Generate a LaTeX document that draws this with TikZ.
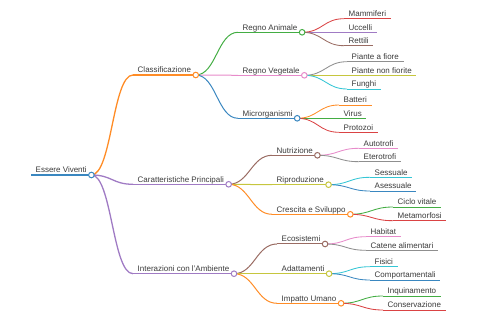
\documentclass[tikz,border=0pt]{standalone}
\usepackage{fontspec}
\setmainfont{Liberation Sans}
\usetikzlibrary{positioning}

\definecolor{cBlue}{HTML}{3A87C0}
\definecolor{cOrange}{HTML}{FF8C26}
\definecolor{cGreen}{HTML}{43AD43}
\definecolor{cRed}{HTML}{DA4344}
\definecolor{cPurple}{HTML}{A07BC4}
\definecolor{cBrown}{HTML}{9A6C63}
\definecolor{cPink}{HTML}{E78BCA}
\definecolor{cGray}{HTML}{8F8F8F}
\definecolor{cOlive}{HTML}{C6C63E}
\definecolor{cCyan}{HTML}{35C6D5}
\definecolor{txt}{HTML}{3A3A3A}

\tikzset{
  lbl/.style={anchor=south west,inner xsep=4.5pt,inner ysep=2pt,
    text height=6pt,text depth=0pt,text=txt,font=\fontsize{8}{9}\selectfont},
  dot/.style={circle,fill=white,inner sep=0pt,minimum size=5.6pt,line width=1pt},
  lvA/.style={line width=2pt},
  lvB/.style={line width=1.3pt},
  lvC/.style={line width=1pt},
  lvD/.style={line width=0.85pt},
  link/.style={to path={.. controls +(20.5,0) and +(-20.5,0) .. (\tikztotarget)}},
}

\begin{document}
\begin{tikzpicture}[x=1pt,y=-1pt]
  \useasboundingbox (0,0) rectangle (480,320);

  % ================= radice =================
  \node[lbl] (root) at (31,175) {Essere Viventi};
  \draw[cBlue,lvA] (root.south west) -- (root.south east);

  % ================= primo livello =================
  \foreach \nm/\yy/\cc/\lab in {cls/75/cOrange/Classificazione,
      car/184.3/cPurple/Caratteristiche Principali,
      int/273.7/cPurple/Interazioni con l'Ambiente} {
    \node[lbl] (\nm) at (133,\yy) {\lab};
    \draw[\cc,lvB] (\nm.south west) -- (\nm.south east);
    \draw[\cc,lvB,link] (root.south east) to (\nm.south west);
  }

  % ================= secondo livello =================
  \foreach \up/\xx/\nm/\yy/\cc/\lab in {
      cls/238/ani/32.3/cGreen/Regno Animale,
      cls/238/veg/75.3/cPink/Regno Vegetale,
      cls/238/mic/118.3/cBlue/Microrganismi,
      car/272/nut/155.3/cBrown/Nutrizione,
      car/272/rip/184.7/cOlive/Riproduzione,
      car/272/cre/214.3/cOrange/Crescita e Sviluppo,
      int/277/eco/244/cBrown/Ecosistemi,
      int/277/ada/273.7/cOlive/Adattamenti,
      int/277/imp/303.3/cOrange/Impatto Umano} {
    \node[lbl] (\nm) at (\xx,\yy) {\lab};
    \draw[\cc,lvC] (\nm.south west) -- (\nm.south east);
    \draw[\cc,lvC,link] (\up.south east) to (\nm.south west);
  }

  % ================= foglie =================
  \foreach \up/\xx/\nm/\yy/\cc/\lab in {
      ani/344/mam/18.7/cRed/Mammiferi,
      ani/344/ucc/32.3/cPurple/Uccelli,
      ani/344/ret/45.7/cBrown/Rettili,
      veg/347/fio/61.7/cGray/Piante a fiore,
      veg/347/nfi/75.3/cOlive/Piante non fiorite,
      veg/347/fun/89/cCyan/Funghi,
      mic/339/bat/105/cOrange/Batteri,
      mic/339/vir/118.3/cGreen/Virus,
      mic/339/pro/132.3/cRed/Protozoi,
      nut/359/aut/148.3/cPink/Autotrofi,
      nut/359/ete/161.7/cGray/Eterotrofi,
      rip/370/ses/177.3/cCyan/Sessuale,
      rip/370/ase/191/cBlue/Asessuale,
      cre/393/cic/207/cGreen/Ciclo vitale,
      cre/393/met/220.7/cRed/Metamorfosi,
      eco/366/hab/236.7/cPink/Habitat,
      eco/366/cat/250.3/cGray/Catene alimentari,
      ada/370/fis/266.7/cCyan/Fisici,
      ada/370/com/280/cBlue/Comportamentali,
      imp/383/inq/296/cGreen/Inquinamento,
      imp/383/con/310/cRed/Conservazione} {
    \node[lbl] (\nm) at (\xx,\yy) {\lab};
    \draw[\cc,lvD] (\nm.south west) -- (\nm.south east);
    \draw[\cc,lvD,link] (\up.south east) to (\nm.south west);
  }

  % cerchi dei nodi interni (sopra i rami)
  \foreach \nm/\cc in {root/cBlue,cls/cOrange,car/cPurple,int/cPurple,
      ani/cGreen,veg/cPink,mic/cBlue,nut/cBrown,rip/cOlive,cre/cOrange,
      eco/cBrown,ada/cOlive,imp/cOrange}
    \node[dot,draw=\cc] (\nm dot) at (\nm.south east) {};
\end{tikzpicture}
\end{document}
